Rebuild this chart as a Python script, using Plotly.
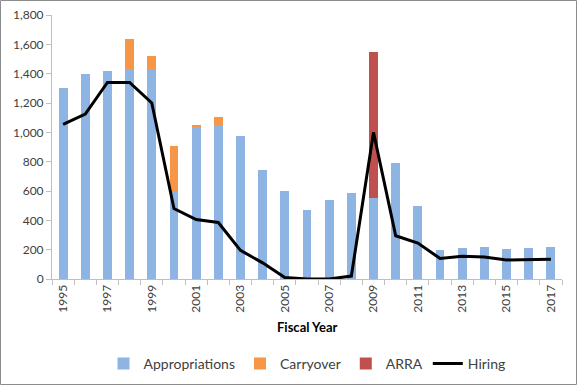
import plotly.graph_objects as go

years = list(range(1995, 2018))
appropriations = [1300, 1400, 1420, 1430, 1430, 590, 1040, 1050, 975, 745, 600, 470, 540, 585,
                  550, 790, 495, 200, 210, 215, 205, 210, 220]
carryover = [0, 0, 0, 205, 90, 320, 7, 55, 0, 0, 0, 0, 0, 0,
             0, 0, 0, 0, 0, 0, 0, 0, 0]
arra = [0, 0, 0, 0, 0, 0, 0, 0, 0, 0, 0, 0, 0, 0,
        1000, 0, 0, 0, 0, 0, 0, 0, 0]
hiring = [1055, 1125, 1340, 1340, 1200, 480, 405, 385, 195, 110, 10, 0, 0, 20,
          1000, 295, 245, 140, 155, 150, 130, 135, 135]
y_ticks = [0, 200, 400, 600, 800, 1000, 1200, 1400, 1600, 1800]
x_tick_years = [y for y in years if y % 2 == 1]

FONT = "Lato"
TXT = "#404040"

fig = go.Figure()
fig.add_trace(go.Bar(x=years, y=appropriations, name="Appropriations",
                     marker=dict(color="#8DB4E2", line=dict(width=0)), width=0.4))
fig.add_trace(go.Bar(x=years, y=carryover, name="Carryover",
                     marker=dict(color="#F79646", line=dict(width=0)), width=0.4))
fig.add_trace(go.Bar(x=years, y=arra, name="ARRA",
                     marker=dict(color="#C0504D", line=dict(width=0)), width=0.4))
fig.add_trace(go.Scatter(x=years, y=hiring, name="Hiring", mode="lines",
                         line=dict(color="black", width=3)))

pw, ph = 510, 264
fig.update_layout(
    width=577, height=385,
    margin=dict(l=52, r=15, t=15, b=106, autoexpand=False),
    barmode="stack",
    paper_bgcolor="white", plot_bgcolor="white",
    font=dict(family=FONT, size=12, color=TXT),
    showlegend=True,
    legend=dict(orientation="h", x=0.5, xanchor="center", y=(279 - 364) / ph, yanchor="middle",
                font=dict(family=FONT, size=14, color=TXT), itemwidth=30, traceorder="normal"),
    xaxis=dict(range=[1994.5, 2017.5], tickmode="array", tickvals=x_tick_years,
               ticktext=[str(y) for y in x_tick_years], tickangle=-90, automargin=False,
               ticks="", showline=True, linecolor="#BFBFBF", linewidth=1,
               showgrid=False, zeroline=False,
               tickfont=dict(family=FONT, size=12, color=TXT),
               minor=dict(tickmode="array", tickvals=[y - 0.5 for y in years] + [2017.5],
                          ticks="outside", ticklen=5, tickcolor="#BFBFBF", showgrid=False)),
    yaxis=dict(range=[0, 1800], tickmode="array", tickvals=y_ticks,
               ticktext=[f"{v:,}" for v in y_ticks], automargin=False,
               ticks="outside", ticklen=5, tickcolor="#BFBFBF",
               showline=True, linecolor="#BFBFBF", linewidth=1,
               showgrid=False, zeroline=False,
               tickfont=dict(family=FONT, size=12, color=TXT)),
    annotations=[dict(text="<b>Fiscal Year</b>", xref="paper", yref="paper",
                      x=0.5, y=(279 - 327) / ph, xanchor="center", yanchor="middle",
                      showarrow=False, font=dict(family=FONT, size=13, color="#000000"))],
    shapes=[dict(type="rect", xref="paper", yref="paper",
                 x0=(0.5 - 52) / pw, x1=(576.5 - 52) / pw,
                 y0=(279 - 384.5) / ph, y1=(279 - 0.5) / ph,
                 line=dict(color="#8C8C8C", width=1), layer="below")],
)

fig.write_html("out.html", config={"displayModeBar": False},
               post_script="document.body.style.margin='0';document.body.style.overflow='hidden';")
